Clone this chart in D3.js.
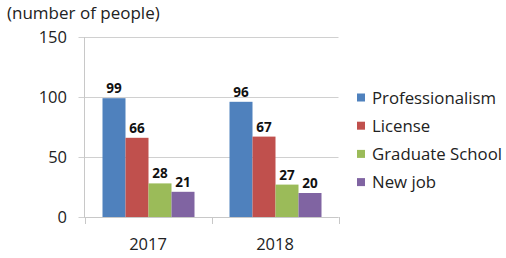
<!DOCTYPE html>
<html><head><meta charset="utf-8">
<script src="https://cdn.jsdelivr.net/npm/d3@7"></script>
<style>body{margin:0;background:#fff;} svg{display:block;font-family:"Open Sans","Noto Sans",sans-serif;}</style>
</head><body>
<svg id="c" width="506" height="258"></svg>
<script>
const categories = ["2017", "2018"];
const seriesNames = ["Professionalism", "License", "Graduate School", "New job"];
const professionalism = [99, 96];
const license = [66, 67];
const graduateSchool = [28, 27];
const newJob = [21, 20];
const yTicks = [0, 50, 100, 150];
const colors = ["#4F81BD", "#C0504D", "#9BBB59", "#8064A2"];
const seriesValues = [professionalism, license, graduateSchool, newJob];

(function () {
const svg = d3.select("#c");
const pLeft = 84.5, pRight = 338.5, pTop = 37, pBottom = 217;
const x0 = d3.scaleBand().domain(categories).range([pLeft, pRight]).paddingInner(0).paddingOuter(0);
const x1 = d3.scaleBand().domain(seriesNames).range([18, x0.bandwidth() - 17]).padding(0);
const y = d3.scaleLinear().domain([0, 150]).range([pBottom, pTop]);

svg.append("g").selectAll("line").data(yTicks).join("line")
  .attr("x1", pLeft - 6).attr("x2", pRight)
  .attr("y1", d => Math.round(y(d)) + 0.5).attr("y2", d => Math.round(y(d)) + 0.5)
  .attr("stroke", "#d0d0d0").attr("stroke-width", 1);

svg.append("line").attr("x1", pLeft).attr("x2", pLeft).attr("y1", pTop).attr("y2", pBottom + 0.5)
  .attr("stroke", "#c8c8c8");

svg.append("g").selectAll("text").data(yTicks).join("text")
  .attr("x", 67).attr("y", d => y(d)).attr("dy", "0.36em")
  .attr("text-anchor", "end").attr("font-size", 16.5).attr("fill", "#222")
  .text(d => d);

svg.append("line").attr("x1", pLeft).attr("x2", pRight).attr("y1", pBottom + 0.5).attr("y2", pBottom + 0.5)
  .attr("stroke", "#c8c8c8");
const bounds = [pLeft, pLeft + x0.bandwidth(), pRight];
svg.append("g").selectAll("line").data(bounds).join("line")
  .attr("x1", d => Math.round(d) + 0.5).attr("x2", d => Math.round(d) + 0.5)
  .attr("y1", pBottom).attr("y2", pBottom + 7).attr("stroke", "#c8c8c8");

svg.append("g").selectAll("text").data(categories).join("text")
  .attr("x", d => x0(d) + x0.bandwidth() / 2).attr("y", 249.5)
  .attr("text-anchor", "middle").attr("font-size", 16.5).attr("fill", "#222")
  .text(d => d);

const groups = svg.append("g").selectAll("g").data(categories).join("g")
  .attr("transform", d => `translate(${x0(d)},0)`);
groups.each(function (cat, ci) {
  const g = d3.select(this);
  seriesNames.forEach((s, si) => {
    const v = seriesValues[si][ci];
    g.append("rect").attr("x", x1(s)).attr("width", x1.bandwidth())
      .attr("y", y(v)).attr("height", y(0) - y(v)).attr("fill", colors[si]);
    g.append("text").attr("x", x1(s) + x1.bandwidth() / 2).attr("y", y(v) - 5)
      .attr("text-anchor", "middle").attr("font-size", 13.5).attr("font-weight", "bold")
      .attr("fill", "#111").text(v);
  });
});

svg.append("text").attr("x", 7).attr("y", 18.5).attr("font-size", 17).attr("fill", "#222")
  .text("(number of people)");

const lg = svg.append("g").selectAll("g").data(seriesNames).join("g")
  .attr("transform", (d, i) => `translate(357,${97.5 + i * 28.2})`);
lg.append("rect").attr("x", 0).attr("y", -4).attr("width", 8).attr("height", 8)
  .attr("fill", (d, i) => colors[i]);
lg.append("text").attr("x", 15).attr("y", 0).attr("dy", "0.36em")
  .attr("font-size", 16.8).attr("fill", "#222").text(d => d);
})();
</script>
</body></html>
